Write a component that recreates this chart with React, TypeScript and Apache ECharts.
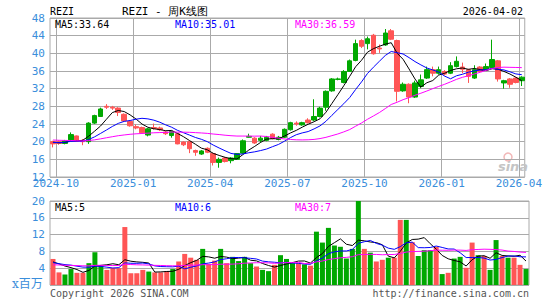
import React, { useEffect, useRef } from "react";
import * as echarts from "echarts";

// ---- Data (weekly) ----
// Earlier weeks (off-chart, estimated) used only to warm up the moving averages
const priorCloses = [
  21.0, 21.4, 21.8, 22.0, 21.6, 21.3, 21.1, 20.8, 20.5, 20.2, 19.8, 19.5, 19.3, 19.6, 20.0,
  20.4, 20.8, 21.0, 20.6, 20.1, 19.9, 19.6, 19.4, 19.8, 20.1, 20.3, 19.9, 19.7, 20.0,
];
const priorVolumes = [
  4.2, 5.0, 4.6, 3.9, 4.8, 5.3, 4.4, 4.1, 4.9, 4.7, 3.8, 4.5, 5.2, 4.6, 4.3, 4.9, 4.4, 4.0,
  4.8, 4.6, 5.6, 4.8, 5.0, 5.4, 5.1, 5.4, 5.0, 5.7, 5.2,
];

const opens = [
  20.0, 20.0, 19.6, 20.4, 21.3, 20.2, 20.0, 24.2, 25.7, 28.0,
  27.8, 27.6, 26.2, 24.6, 23.4, 23.2, 21.5, 23.2, 23.1, 22.2,
  21.4, 21.8, 19.9, 20.0, 18.0, 17.2, 18.5, 17.3, 15.3, 16.3,
  15.7, 16.0, 17.4, 21.0, 20.8, 20.3, 20.3, 21.7, 20.5, 21.0,
  22.7, 24.2, 23.8, 24.9, 24.9, 25.7, 27.8, 31.5, 34.1, 33.4,
  35.9, 38.4, 42.9, 42.2, 44.1, 41.2, 41.9, 45.1, 42.9, 31.5,
  33.0, 30.1, 32.5, 34.4, 36.3, 35.5, 35.9, 35.5, 37.0, 36.9,
  36.3, 34.4, 36.9, 36.3, 36.8, 38.3, 33.3, 34.2, 34.4, 33.8,
];
const closes = [
  19.5, 19.6, 20.2, 21.6, 20.1, 20.0, 24.2, 25.9, 27.4, 27.8,
  27.6, 26.6, 24.7, 23.6, 23.1, 22.0, 22.9, 23.0, 22.7, 21.8,
  22.3, 19.5, 19.3, 18.4, 17.6, 17.9, 17.6, 15.3, 16.0, 15.5,
  16.3, 17.3, 20.2, 21.2, 19.7, 20.8, 21.0, 20.7, 21.0, 22.8,
  24.3, 24.0, 24.3, 24.3, 25.7, 27.6, 31.4, 34.2, 34.2, 35.9,
  38.3, 42.2, 41.6, 43.3, 39.9, 41.0, 44.6, 43.2, 31.4, 33.0,
  30.1, 33.3, 34.0, 36.3, 35.5, 36.3, 35.3, 37.2, 38.2, 36.4,
  34.8, 36.3, 35.9, 37.0, 38.6, 34.2, 33.8, 33.0, 33.4, 34.6,
];
const lows = [
  18.7, 19.3, 19.4, 20.3, 20.0, 19.2, 19.5, 24.0, 25.6, 27.4,
  27.2, 25.8, 24.5, 23.4, 22.8, 21.9, 21.2, 22.7, 22.4, 21.5,
  20.9, 19.4, 19.0, 17.4, 16.8, 17.0, 17.4, 14.6, 14.1, 15.3,
  15.1, 15.9, 17.2, 20.9, 19.5, 19.8, 20.1, 20.5, 20.3, 20.8,
  22.5, 23.6, 23.6, 24.1, 24.7, 25.5, 27.0, 31.3, 33.9, 33.2,
  35.8, 38.2, 41.2, 40.9, 39.7, 40.1, 41.7, 43.0, 29.1, 31.3,
  28.7, 29.9, 32.1, 34.2, 34.8, 35.2, 35.0, 35.3, 36.8, 35.5,
  33.3, 34.2, 35.7, 36.1, 36.6, 33.6, 32.0, 32.2, 33.2, 32.6,
];
const highs = [
  20.2, 20.3, 20.4, 22.1, 21.4, 20.6, 24.4, 26.1, 27.7, 28.5,
  28.1, 27.8, 26.4, 24.8, 23.9, 23.4, 23.1, 24.1, 23.4, 22.5,
  22.5, 22.0, 20.1, 20.2, 18.2, 18.1, 18.7, 17.5, 16.4, 16.5,
  16.5, 17.4, 20.5, 21.8, 21.0, 21.3, 21.3, 21.9, 21.3, 23.0,
  24.5, 24.6, 24.5, 25.3, 29.6, 27.9, 31.6, 34.4, 34.5, 36.2,
  38.6, 43.1, 43.2, 43.8, 44.4, 42.0, 45.5, 45.5, 43.1, 33.4,
  33.2, 33.8, 35.2, 37.0, 37.0, 37.0, 36.2, 38.0, 39.3, 37.9,
  36.5, 37.3, 37.1, 37.7, 43.1, 38.5, 34.0, 34.4, 34.6, 34.8,
];
// volume in millions
const volumes = [
  6.2, 3.0, 2.5, 3.8, 2.9, 2.9, 5.2, 7.8, 4.6, 3.6,
  4.1, 4.0, 13.8, 2.8, 2.8, 3.6, 3.2, 3.0, 3.0, 3.3,
  3.8, 5.6, 7.4, 6.5, 6.0, 8.6, 5.0, 5.8, 8.6, 5.2,
  6.7, 5.7, 6.7, 5.2, 4.4, 3.6, 3.3, 4.8, 7.1, 6.2,
  5.2, 5.2, 4.9, 4.6, 12.7, 10.1, 13.6, 9.4, 9.1, 6.3,
  8.6, 20.0, 8.6, 7.7, 5.6, 6.0, 6.5, 6.5, 15.5, 15.5,
  10.2, 6.9, 8.3, 8.3, 9.1, 2.6, 2.9, 6.3, 6.7, 4.1,
  10.1, 7.1, 6.9, 3.6, 10.7, 6.9, 6.5, 6.5, 4.8, 3.8,
];

const firstWeek = "2024-09-27";
const tickLabels = ["2024-10", "2025-01", "2025-04", "2025-07", "2025-10", "2026-01", "2026-04"];
const tickBoundaries = [1, 14, 27, 40, 53, 66, 79];
const priceTicks = { min: 12, max: 48, step: 4 };
const volTicks = { min: 0, max: 20, step: 4 };

const headerTexts = {
  code: "REZI",
  title: "REZI - 周K线图",
  date: "2026-04-02",
  ma5: "MA5:33.64",
  ma10: "MA10:35.01",
  ma30: "MA30:36.59",
  vma5: "MA5:5",
  vma10: "MA10:6",
  vma30: "MA30:7",
  unit: "x百万",
  copyright: "Copyright 2026 SINA.COM",
  url: "http://finance.sina.com.cn",
};

// ---- helpers ----
function weekDates(start: string, n: number): string[] {
  const out: string[] = [];
  const d0 = new Date(start + "T00:00:00Z").getTime();
  for (let i = 0; i < n; i++) {
    const d = new Date(d0 + i * 7 * 86400000);
    out.push(d.toISOString().slice(0, 10));
  }
  return out;
}
function movingAvg(prior: number[], vals: number[], n: number): number[] {
  const all = prior.concat(vals);
  const res: number[] = [];
  for (let i = 0; i < vals.length; i++) {
    const k = i + prior.length;
    let s = 0;
    for (let j = k - n + 1; j <= k; j++) s += all[j];
    res.push(Math.round((s / n) * 100) / 100);
  }
  return res;
}

const MONO = "'DejaVu Sans Mono', monospace";
const GREEN = "#00a800";
const RED = "#ff5555";
const AXIS_BLUE = "#3a8edb";
const GRID = "#aaaaaa";

export default function App() {
  const ref = useRef<HTMLDivElement>(null);
  useEffect(() => {
    if (!ref.current) return;
    const chart = echarts.init(ref.current, undefined, { renderer: "svg" });
    const n = opens.length;
    const weeks = weekDates(firstWeek, n);
    const boundaries: string[] = new Array(n + 1).fill("");
    tickBoundaries.forEach((b, i) => (boundaries[b] = tickLabels[i]));

    const ma5 = movingAvg(priorCloses, closes, 5);
    const ma10 = movingAvg(priorCloses, closes, 10);
    const ma30 = movingAvg(priorCloses, closes, 30);
    const vma5 = movingAvg(priorVolumes, volumes, 5);
    const vma10 = movingAvg(priorVolumes, volumes, 10);
    const vma30 = movingAvg(priorVolumes, volumes, 30);

    const lineSeries = (data: number[], color: string, xi: number, yi: number) => ({
      type: "line",
      data,
      xAxisIndex: xi,
      yAxisIndex: yi,
      symbol: "none",
      showSymbol: false,
      silent: true,
      lineStyle: { width: 1, color },
      z: 5,
    });

    const txt = (text: string, x: number, y: number, color: string, align = "left", size = 10, family = MONO) => ({
      type: "text",
      x,
      y,
      silent: true,
      style: { text, fill: color, font: `${size}px ${family}`, textAlign: align, textVerticalAlign: "middle" },
      z: 10,
    });

    chart.setOption({
      animation: false,
      backgroundColor: "#ffffff",
      textStyle: { fontFamily: MONO },
      grid: [
        { left: 50, top: 18, width: 479, height: 159, show: true, borderColor: GRID, borderWidth: 1 },
        { left: 50, top: 201, width: 479, height: 84, show: true, borderColor: GRID, borderWidth: 1 },
      ],
      xAxis: [
        { type: "category", gridIndex: 0, data: weeks, show: false, boundaryGap: true },
        {
          type: "category",
          gridIndex: 0,
          data: boundaries,
          boundaryGap: false,
          position: "bottom",
          axisLine: { show: false },
          axisTick: { show: false },
          axisLabel: {
            interval: (i: number, v: string) => v !== "",
            color: AXIS_BLUE,
            fontSize: 11,
            fontFamily: MONO,
            margin: 1,
          },
          splitLine: {
            show: true,
            interval: (i: number) => boundaries[i] !== "",
            lineStyle: { color: GRID, width: 1 },
          },
        },
        { type: "category", gridIndex: 1, data: weeks, show: false, boundaryGap: true },
      ],
      yAxis: [
        {
          type: "value",
          gridIndex: 0,
          min: priceTicks.min,
          max: priceTicks.max,
          interval: priceTicks.step,
          axisLine: { show: false },
          axisTick: { show: false },
          axisLabel: { color: AXIS_BLUE, fontSize: 11, fontFamily: MONO, margin: 5 },
          splitLine: { lineStyle: { color: GRID, width: 1 } },
        },
        {
          type: "value",
          gridIndex: 1,
          min: volTicks.min,
          max: volTicks.max,
          interval: volTicks.step,
          axisLine: { show: false },
          axisTick: { show: false },
          axisLabel: {
            color: AXIS_BLUE,
            fontSize: 11,
            fontFamily: MONO,
            margin: 5,
            formatter: (v: number) => (v === 0 ? "" : String(v)),
          },
          splitLine: { lineStyle: { color: GRID, width: 1 } },
        },
      ],
      series: [
        {
          type: "candlestick",
          xAxisIndex: 0,
          yAxisIndex: 0,
          barWidth: 5,
          silent: true,
          data: opens.map((o, i) => [o, closes[i], lows[i], highs[i]]),
          itemStyle: { color: GREEN, color0: RED, borderColor: GREEN, borderColor0: RED, borderWidth: 1 },
        },
        lineSeries(ma5, "#000000", 0, 0),
        lineSeries(ma10, "#0000ff", 0, 0),
        lineSeries(ma30, "#ff00ff", 0, 0),
        {
          type: "bar",
          xAxisIndex: 2,
          yAxisIndex: 1,
          barWidth: 5,
          silent: true,
          data: volumes.map((v, i) => ({
            value: v,
            itemStyle: { color: closes[i] >= opens[i] ? GREEN : RED },
          })),
        },
        lineSeries(vma5, "#000000", 2, 1),
        lineSeries(vma10, "#0000ff", 2, 1),
        lineSeries(vma30, "#ff00ff", 2, 1),
      ],
      graphic: [
        txt(headerTexts.code, 50, 11, "#000"),
        txt(headerTexts.title, 122, 11, "#000", "left", 11),
        txt(headerTexts.date, 523, 11, "#000", "right"),
        txt(headerTexts.ma5, 55, 24, "#000"),
        txt(headerTexts.ma10, 175, 24, "#0000ff"),
        txt(headerTexts.ma30, 295, 24, "#ff00ff"),
        txt(headerTexts.vma5, 55, 207, "#000"),
        txt(headerTexts.vma10, 175, 207, "#0000ff"),
        txt(headerTexts.vma30, 295, 207, "#ff00ff"),
        txt(headerTexts.unit, 12, 284, AXIS_BLUE, "left", 12, "'DejaVu Serif', 'Noto Sans CJK SC', serif"),
        txt(headerTexts.copyright, 50, 293, "#555"),
        txt(headerTexts.url, 529, 293, "#555", "right"),
        {
          type: "circle",
          shape: { cx: 508, cy: 157, r: 4 },
          silent: true,
          style: { fill: "none", stroke: "#f2b8b8", lineWidth: 1.5 },
        },
        {
          type: "text",
          x: 513,
          y: 166,
          silent: true,
          style: {
            text: "sina",
            fill: "#c4c4c4",
            font: "italic bold 13px 'DejaVu Sans', sans-serif",
            textAlign: "center",
            textVerticalAlign: "middle",
          },
        },
      ],
    });
    return () => chart.dispose();
  }, []);
  return (
    <div
      ref={ref}
      style={{ position: "fixed", left: 0, top: 0, width: 545, height: 300, background: "#fff" }}
    />
  );
}
